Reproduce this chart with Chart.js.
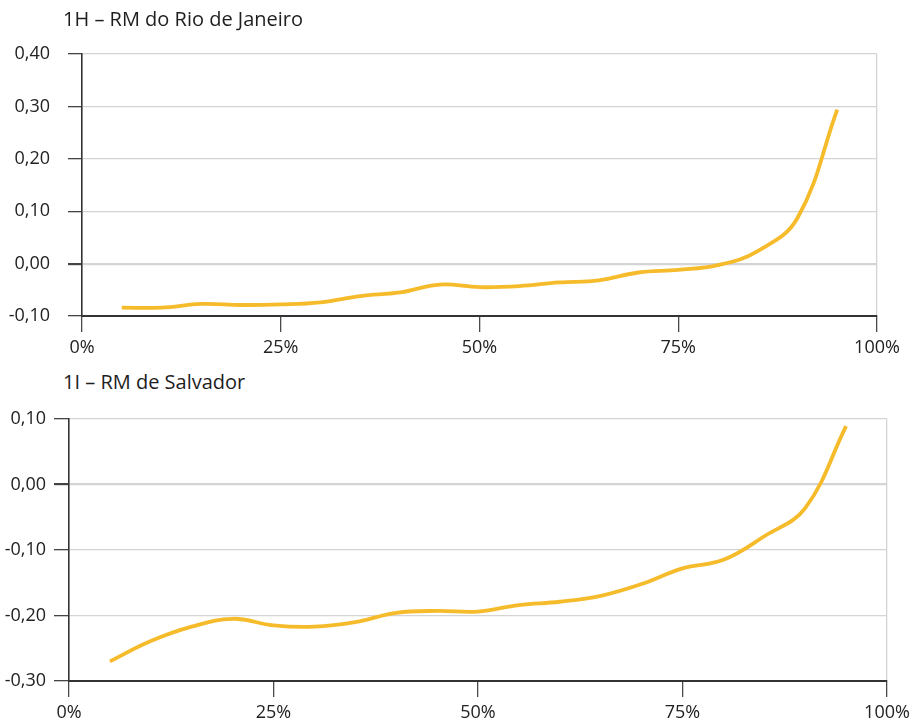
<!DOCTYPE html>
<html>
<head>
<meta charset="utf-8">
<script src="https://cdn.jsdelivr.net/npm/chart.js@4/dist/chart.umd.min.js"></script>
<style>
  html, body { margin: 0; padding: 0; background: #ffffff; }
  body { width: 916px; height: 722px; position: relative; overflow: hidden; font-family: 'Open Sans', sans-serif; }
  .title { position: absolute; z-index: 2; left: 63px; font-size: 20px; line-height: 20px; color: #1e1e1e; white-space: nowrap; -webkit-font-smoothing: antialiased; }
  .box { position: absolute; z-index: 1; left: 0; width: 916px; }
</style>
</head>
<body>
<div class="box" style="top:20px;height:342px;"><canvas id="rio" width="916" height="342"></canvas></div>
<div class="box" style="top:395px;height:327px;"><canvas id="ssa" width="916" height="327"></canvas></div>
<div class="title" style="top:9px;">1H – RM do Rio de Janeiro</div>
<div class="title" style="top:372px;">1I – RM de Salvador</div>
<script>
// Quantiles of the distribution (%)
const quantiles = [5, 10, 15, 20, 25, 30, 35, 40, 45, 50, 55, 60, 65, 70, 75, 80, 85, 90, 95];

// Coefficient by quantile – RM do Rio de Janeiro
const rioValues = [-0.084, -0.084, -0.077, -0.079, -0.078, -0.074, -0.062, -0.055, -0.040, -0.045,
                   -0.043, -0.036, -0.032, -0.017, -0.012, -0.003, 0.024, 0.087, 0.294];

// Coefficient by quantile – RM de Salvador
const ssaValues = [-0.270, -0.239, -0.217, -0.205, -0.215, -0.217, -0.210, -0.196, -0.193, -0.194,
                   -0.184, -0.179, -0.170, -0.152, -0.128, -0.115, -0.079, -0.036, 0.089];

// Axis ticks
const xTicks = [0, 25, 50, 75, 100];
const rioYTicks = [-0.10, 0.00, 0.10, 0.20, 0.30, 0.40];
const ssaYTicks = [-0.30, -0.20, -0.10, 0.00, 0.10];

const LINE = '#F6BB2B';
const GRID = '#d4d4d4';
const AXIS = '#333333';

Chart.defaults.font.family = "'Open Sans', sans-serif";
Chart.defaults.font.size = 18;
Chart.defaults.color = '#222222';
Chart.defaults.animation = false;

const fmtY = v => Number(v).toFixed(2).replace('.', ',');

function buildChart(id, values, yTicks, geo) {
  const pts = quantiles.map((q, i) => ({ x: q, y: values[i] }));
  return new Chart(document.getElementById(id), {
    type: 'line',
    data: {
      datasets: [{
        data: pts,
        borderColor: LINE,
        borderWidth: 3.8,
        pointRadius: 0,
        tension: 0.4,
        fill: false,
        borderCapStyle: 'butt'
      }]
    },
    options: {
      responsive: false,
      layout: { padding: { top: geo.padTop, right: geo.padRight, left: 0, bottom: 0 } },
      plugins: { legend: { display: false }, tooltip: { enabled: false } },
      scales: {
        x: {
          type: 'linear',
          min: 0, max: 100,
          afterBuildTicks: s => { s.ticks = xTicks.map(v => ({ value: v })); },
          afterFit: s => { s.height = geo.xHeight; },
          ticks: { callback: v => v + '%', padding: geo.xPad, maxRotation: 0, autoSkip: false, color: '#222' },
          grid: {
            color: c => (c.tick && c.tick.value === 100) ? GRID : 'rgba(0,0,0,0)',
            tickColor: '#4a4a4a',
            tickLength: 16,
            lineWidth: 1.3
          },
          border: { display: true, color: AXIS, width: 2 }
        },
        y: {
          min: yTicks[0], max: yTicks[yTicks.length - 1],
          afterBuildTicks: s => { s.ticks = yTicks.map(v => ({ value: v })); },
          afterFit: s => { s.width = geo.yWidth; },
          ticks: { callback: fmtY, padding: geo.yPad, color: '#222' },
          grid: {
            color: GRID,
            tickColor: '#444',
            tickLength: geo.yTick,
            lineWidth: c => (c.tick && Math.abs(c.tick.value) < 1e-9) ? 2.2 : 1.3
          },
          border: { display: true, color: AXIS, width: 1.6 }
        }
      }
    }
  });
}

buildChart('rio', rioValues, rioYTicks, { padTop: 34, padRight: 39, xHeight: 46, yWidth: 82, xPad: 5, yPad: 18, yTick: 14 });
buildChart('ssa', ssaValues, ssaYTicks, { padTop: 24, padRight: 29, xHeight: 41, yWidth: 69, xPad: 5, yPad: 8, yTick: 15 });
</script>
</body>
</html>
